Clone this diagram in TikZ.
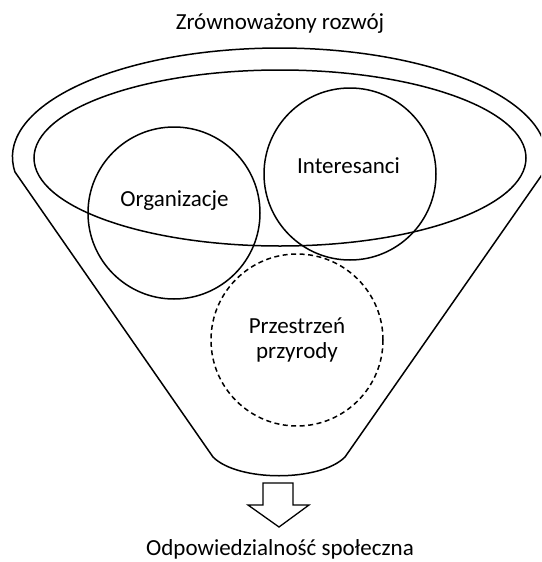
\documentclass[tikz,border=0pt]{standalone}
\usepackage{fontspec}
\setmainfont{Carlito}
\usetikzlibrary{shapes.geometric}
\begin{document}
\begin{tikzpicture}[x=1pt,y=1pt,
  thick line/.style={line width=1.5pt},
  lbl/.style={font=\fontsize{23}{27}\selectfont, inner sep=0pt, anchor=base},
  ring/.style={draw, circle, line width=1.5pt, inner sep=0pt, minimum size=#1}]
\useasboundingbox (0,0) rectangle (541,-562);
\clip (0,0) rectangle (541,-562);
% funnel outline
\draw[thick line, line join=round] (15,-172)
  arc[start angle=187.9, end angle=-7.9, x radius=267, y radius=109]
  -- (345,-457) .. controls (320,-482) and (238,-482) .. (213,-457) -- cycle;
% inner ellipse
\node[draw, ellipse, thick line, minimum width=492pt, minimum height=176pt, inner sep=0pt] (inner) at (280,-158) {};
% circles
\node[ring=172pt] (org) at (174,-213) {};
\node[ring=172pt] (int) at (350,-174) {};
\node[ring=172pt, dash pattern=on 5pt off 3.5pt] (prz) at (297,-340) {};
% labels
\node[lbl] (torg) at (174.5,-206) {Organizacje};
\node[lbl] (tint) at (348.5,-173) {Interesanci};
\node[lbl] (tprz1) at (297,-333) {Przestrzeń};
\node[lbl] (tprz2) at (297,-358) {przyrody};
\node[lbl] (title) at (280,-29) {Zrównoważony rozwój};
\node[lbl] (bottom) at (280,-555.5) {Odpowiedzialność społeczna};
% arrow
\draw[line width=1.3pt, line join=miter] (263,-483) -- (293,-483) -- (293,-505) -- (309,-505)
  -- (279,-527) -- (248,-505) -- (263,-505) -- cycle;
\end{tikzpicture}
\end{document}
